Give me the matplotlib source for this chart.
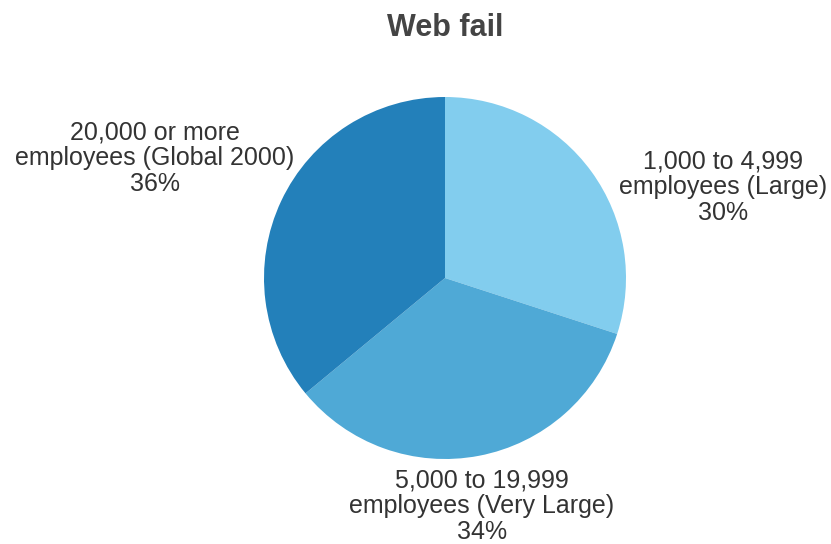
import matplotlib
matplotlib.use("Agg")
import matplotlib.pyplot as plt

categories = ["1,000 to 4,999\nemployees (Large)",
              "5,000 to 19,999\nemployees (Very Large)",
              "20,000 or more\nemployees (Global 2000)"]
values = [30, 34, 36]
colors = ["#82cdee", "#4fa9d6", "#2380ba"]
title = "Web fail"

plt.rcParams['font.family'] = ['Liberation Sans', 'DejaVu Sans']

W, H = 831, 544
fig = plt.figure(figsize=(W / 100, H / 100), dpi=100)
cx, cy, r = 445, 278, 181
ax = fig.add_axes([(cx - r) / W, (H - cy - r) / H, 2 * r / W, 2 * r / H])

wedges, _ = ax.pie(values, colors=colors, startangle=90, counterclock=False,
                   radius=1, wedgeprops=dict(linewidth=0))
ax.set_xlim(-1, 1)
ax.set_ylim(-1, 1)
ax.set_aspect('equal')
ax.axis('off')

label_pos = [(1.536, 0.503), (0.204, -1.262), (-1.602, 0.663)]
for cat, v, (x, y) in zip(categories, values, label_pos):
    ax.text(x, y, f"{cat}\n{v}%", ha='center', va='center', fontsize=18,
            color='#333333', linespacing=1.1, clip_on=False)

fig.text(445 / W, 1 - 28 / H, title, ha='center', va='center', fontsize=22,
         fontweight='bold', color='#444444')

fig.savefig("out.png", dpi=100)
